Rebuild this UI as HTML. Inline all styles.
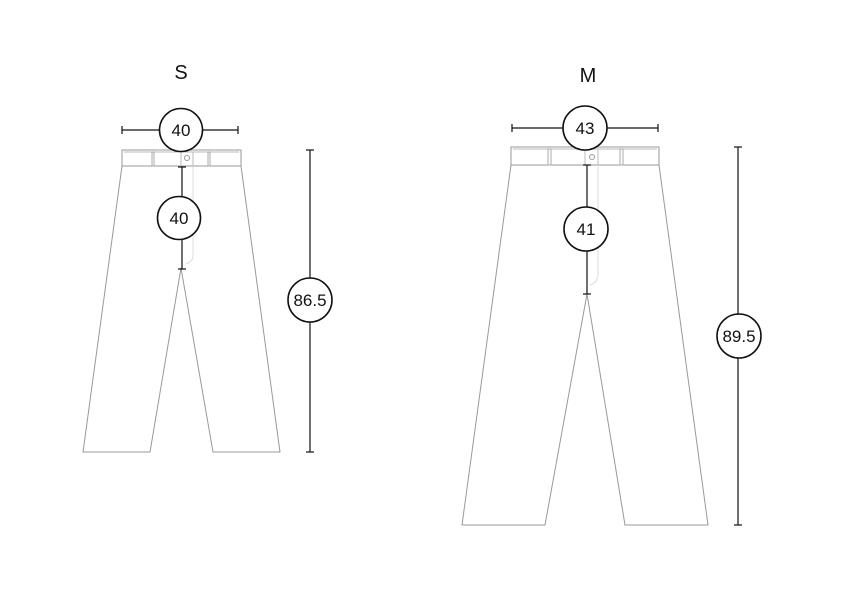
<!DOCTYPE html>
<html><head><style>body{margin:0;background:#fff}svg{display:block}text{font-family:"Liberation Sans",sans-serif;fill:#111}</style></head>
<body>
<svg width="842" height="595" viewBox="0 0 842 595" xmlns="http://www.w3.org/2000/svg">
<g fill="none" stroke="#999" stroke-width="1">
<!-- S pants -->
<rect x="122" y="150" width="119" height="16" fill="#fff"/>
<line x1="124" y1="152" x2="239" y2="152" stroke="#bbb"/>
<rect x="152" y="152" width="2" height="14" stroke="#aaa"/>
<rect x="208" y="152" width="2" height="14" stroke="#aaa"/>
<line x1="181" y1="152" x2="181" y2="166" stroke="#bbb"/>
<line x1="193" y1="152" x2="193" y2="166" stroke="#bbb"/>
<circle cx="187" cy="158" r="2.5"/>
<path d="M193 166 V255 Q193 262 186 264" stroke="#ddd"/>
<path d="M122 166 L83 452 L150 452 L181 268 L213 452 L280 452 L241 166"/>
<!-- M pants -->
<rect x="511" y="147" width="148" height="18" fill="#fff"/>
<line x1="513" y1="149" x2="657" y2="149" stroke="#bbb"/>
<rect x="548" y="149" width="3" height="16" stroke="#aaa"/>
<rect x="620" y="149" width="3" height="16" stroke="#aaa"/>
<line x1="585" y1="149" x2="585" y2="165" stroke="#bbb"/>
<line x1="598" y1="149" x2="598" y2="165" stroke="#bbb"/>
<circle cx="592" cy="157" r="2.5"/>
<path d="M598 165 V275 Q598 282 590 285" stroke="#ddd"/>
<path d="M511 165 L462 525 L545 525 L587 294 L625 525 L708 525 L659 165"/>
</g>
<g stroke="#111" stroke-width="1.2" fill="#fff">
<!-- S dims -->
<line x1="122" y1="130" x2="238" y2="130"/><line x1="122" y1="126" x2="122" y2="134"/><line x1="238" y1="126" x2="238" y2="134"/>
<line x1="182" y1="167" x2="182" y2="269"/><line x1="178" y1="167" x2="186" y2="167"/><line x1="178" y1="269" x2="186" y2="269"/>
<line x1="310" y1="150" x2="310" y2="452"/><line x1="306" y1="150" x2="314" y2="150"/><line x1="306" y1="452" x2="314" y2="452"/>
<circle cx="181" cy="130" r="21.5" stroke-width="1.6"/>
<circle cx="179" cy="218" r="21.5" stroke-width="1.6"/>
<circle cx="310" cy="300" r="22" stroke-width="1.6"/>
<!-- M dims -->
<line x1="512" y1="128" x2="658" y2="128"/><line x1="512" y1="124" x2="512" y2="132"/><line x1="658" y1="124" x2="658" y2="132"/>
<line x1="587" y1="165" x2="587" y2="294"/><line x1="583" y1="165" x2="591" y2="165"/><line x1="583" y1="294" x2="591" y2="294"/>
<line x1="738" y1="147" x2="738" y2="525"/><line x1="734" y1="147" x2="742" y2="147"/><line x1="734" y1="525" x2="742" y2="525"/>
<circle cx="585" cy="128" r="22" stroke-width="1.6"/>
<circle cx="586" cy="229" r="22" stroke-width="1.6"/>
<circle cx="739" cy="336" r="22" stroke-width="1.6"/>
</g>
<g font-size="17" text-anchor="middle">
<text x="181" y="136">40</text>
<text x="179" y="224">40</text>
<text x="310" y="306">86.5</text>
<text x="585" y="134">43</text>
<text x="586" y="235">41</text>
<text x="739" y="342">89.5</text>
</g>
<text x="181" y="79" font-size="20" text-anchor="middle">S</text>
<text x="588" y="82" font-size="20" text-anchor="middle">M</text>
</svg>
</body></html>
